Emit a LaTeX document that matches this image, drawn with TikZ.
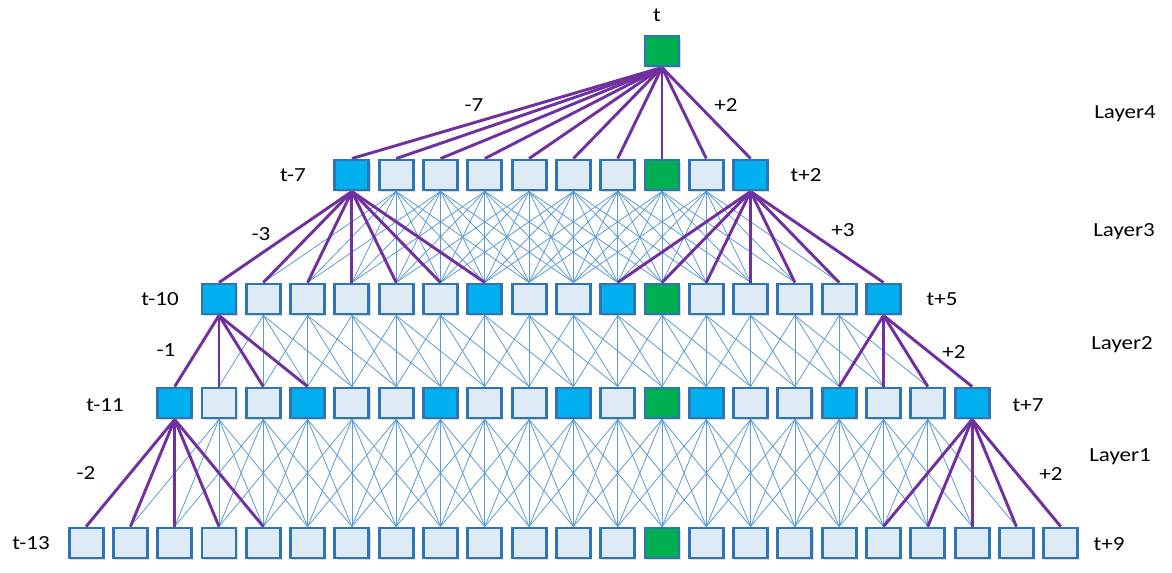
\documentclass[tikz,border=0pt]{standalone}
\usepackage{fontspec}
\setmainfont{Carlito}[FakeStretch=1.15]
\usetikzlibrary{shadows,backgrounds}
\definecolor{edgeblue}{HTML}{2E75B6}
\definecolor{cL}{HTML}{DEEBF7}
\definecolor{cB}{HTML}{00B0F0}
\definecolor{cG}{HTML}{00B050}
\definecolor{purp}{HTML}{7030A0}
\definecolor{thinblue}{HTML}{5B9BD5}
\tikzset{
  cell/.style={draw=edgeblue,line width=2.2pt,fill=cL,minimum width=25.5pt,minimum height=22.5pt,inner sep=0pt,
    drop shadow={shadow xshift=1.2pt,shadow yshift=-1.5pt,opacity=0.3}},
  thinlink/.style={draw=thinblue,line width=0.6pt},
  strong/.style={draw=purp,line width=2.2pt},
  lab/.style={font=\fontsize{15pt}{18pt}\selectfont,anchor=base,inner sep=0pt},
}
\begin{document}
\begin{tikzpicture}[x=0.75pt,y=-0.75pt]
\useasboundingbox (0,0) rectangle (1172,572);
% rows of cells
\foreach \k in {-13,...,9}{
  \ifnum\k=0 \def\s{G}\else\def\s{L}\fi
  \node[cell,fill=c\s] (a\k) at ({662+44.3*\k},543) {};
}
\foreach \k/\s in {-11/B,-10/L,-9/L,-8/B,-7/L,-6/L,-5/B,-4/L,-3/L,-2/B,-1/L,0/G,1/B,2/L,3/L,4/B,5/L,6/L,7/B}
  \node[cell,fill=c\s] (b\k) at ({662+44.3*\k},403) {};
\foreach \k/\s in {-10/B,-9/L,-8/L,-7/L,-6/L,-5/L,-4/B,-3/L,-2/L,-1/B,0/G,1/L,2/L,3/L,4/L,5/B}
  \node[cell,fill=c\s] (c\k) at ({662+44.3*\k},299) {};
\foreach \k/\s in {-7/B,-6/L,-5/L,-4/L,-3/L,-2/L,-1/L,0/G,1/L,2/B}
  \node[cell,fill=c\s] (d\k) at ({662+44.3*\k},175) {};
\node[cell,fill=cG] (e0) at (662,51) {};
% connectors
\begin{scope}[on background layer]
  \foreach \k in {-7,...,2}\foreach \d in {-3,...,3}{
    \pgfmathtruncatemacro\j{\k+\d}
    \draw[thinlink] (d\k.south) -- (c\j.north);}
  \foreach \k in {-10,...,5}\foreach \d in {-1,...,2}{
    \pgfmathtruncatemacro\j{\k+\d}
    \draw[thinlink] (c\k.south) -- (b\j.north);}
  \foreach \k in {-11,...,7}\foreach \d in {-2,...,2}{
    \pgfmathtruncatemacro\j{\k+\d}
    \draw[thinlink] (b\k.south) -- (a\j.north);}
  \foreach \j in {-7,...,2} \draw[strong] (e0.south) -- (d\j.north);
  \foreach \j in {-10,...,-4} \draw[strong] (d-7.south) -- (c\j.north);
  \foreach \j in {-1,...,5} \draw[strong] (d2.south) -- (c\j.north);
  \foreach \j in {-11,...,-8} \draw[strong] (c-10.south) -- (b\j.north);
  \foreach \j in {4,...,7} \draw[strong] (c5.south) -- (b\j.north);
  \foreach \j in {-13,...,-9} \draw[strong] (b-11.south) -- (a\j.north);
  \foreach \j in {5,...,9} \draw[strong] (b7.south) -- (a\j.north);
\end{scope}
% labels
\node[lab] (lt) at (657,21) {t};
\node[lab] (l4a) at (474,111) {-7};
\node[lab] (l4b) at (726,111) {+2};
\node[lab] (ly4) at (1125,118) {Layer4};
\node[lab] (ly3) at (1124,236) {Layer3};
\node[lab] (ly2) at (1122,349) {Layer2};
\node[lab] (ly1) at (1120,461) {Layer1};
\node[lab] (l3a) at (293,181) {t-7};
\node[lab] (l3b) at (806,181) {t+2};
\node[lab] (l3c) at (261,240) {-3};
\node[lab] (l3d) at (843,236) {+3};
\node[lab] (l2a) at (160,305) {t-10};
\node[lab] (l2b) at (942,305) {t+5};
\node[lab] (l2c) at (166,356) {-1};
\node[lab] (l2d) at (954,358) {+2};
\node[lab] (l1a) at (105,411) {t-11};
\node[lab] (l1b) at (1028,411) {t+7};
\node[lab] (l1c) at (86,479) {-2};
\node[lab] (l1d) at (1051,480) {+2};
\node[lab] (l0a) at (31,549) {t-13};
\node[lab] (l0b) at (1109,550) {t+9};
\end{tikzpicture}
\end{document}
